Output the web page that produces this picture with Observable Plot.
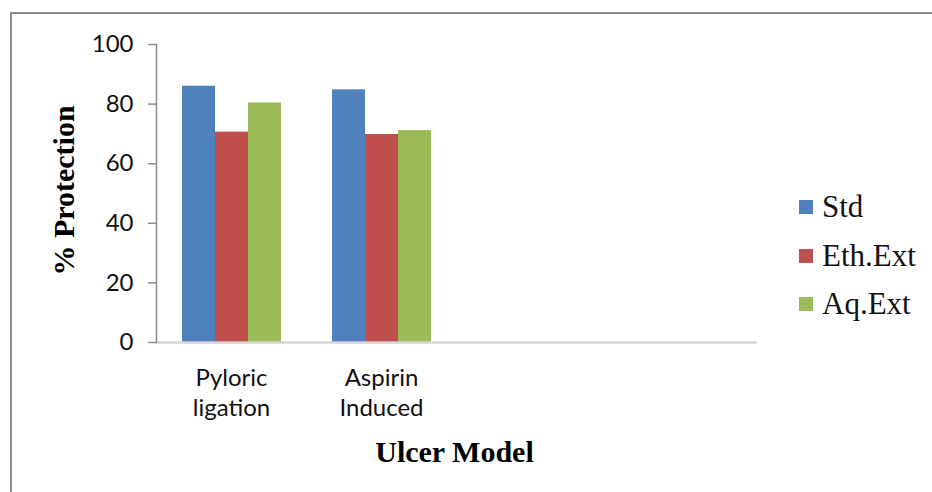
<!DOCTYPE html>
<html>
<head>
<meta charset="utf-8">
<script src="https://cdn.jsdelivr.net/npm/d3@7"></script>
<script src="https://cdn.jsdelivr.net/npm/@observablehq/plot@0.6"></script>
<style>
  html, body { margin: 0; padding: 0; background: #fff; width: 932px; height: 492px; overflow: hidden; }
  #wrap { position: relative; width: 932px; height: 492px; }
  #border { position: absolute; left: 10px; top: 12px; width: 1000px; height: 600px;
            border-left: 2px solid #8c8c8c; border-top: 2px solid #8c8c8c; box-sizing: border-box; }
  #chart { position: absolute; left: 0; top: 0; }
  #legend { position: absolute; left: 799px; top: 183px; font-family: "Liberation Serif", "Times New Roman", serif;
            font-size: 31px; color: #111; }
  .row { display: flex; align-items: center; height: 48.5px; }
  .sw { width: 14px; height: 14px; margin-right: 9px; }
</style>
</head>
<body>
<div id="wrap">
  <div id="border"></div>
  <div id="chart"></div>
  <div id="legend"></div>
</div>
<script>
const categories = ["Pyloric ligation", "Aspirin Induced"];
const categoryLabels = ["Pyloric\nligation", "Aspirin\nInduced"];
const emptySlots = ["slot 3", "slot 4"];
const series = ["Std", "Eth.Ext", "Aq.Ext"];
const stdValues = [86.0, 84.8];
const ethValues = [70.6, 69.8];
const aqValues = [80.4, 71.1];
const seriesColors = ["#4F81BD", "#C0504D", "#9BBB59"];
const yTicks = [0, 20, 40, 60, 80, 100];
const yLabel = "% Protection";
const xLabel = "Ulcer Model";

const valueArrays = [stdValues, ethValues, aqValues];
const data = categories.flatMap((c, i) =>
  series.map((s, j) => ({category: c, series: s, value: valueArrays[j][i]}))
);
const labelOf = new Map(categories.map((c, i) => [c, categoryLabels[i]]));

const chart = Plot.plot({
  width: 932,
  height: 492,
  marginLeft: 155,
  marginRight: 175,
  marginTop: 44,
  marginBottom: 150,
  style: {fontFamily: "Lato, sans-serif", background: "transparent", color: "#000"},
  fx: {domain: [...categories, ...emptySlots], paddingInner: 1/3, paddingOuter: 1/6, axis: null, label: null},
  x: {domain: series, padding: 0, axis: null},
  y: {domain: [0, 100], axis: null},
  color: {domain: series, range: seriesColors},
  marks: [
    Plot.barY(data, {fx: "category", x: "series", y: "value", fill: "series"}),
    Plot.frame({anchor: "bottom", stroke: "#d4d4d4", strokeWidth: 2.5, facet: "super", insetLeft: -25, insetRight: -24}),
    Plot.frame({anchor: "left", stroke: "#8c8c8c", strokeWidth: 1.5, facet: "super", insetLeft: -25}),
    Plot.axisY({ticks: yTicks, tickSize: 8, tickPadding: 15, dx: -25, fontSize: 24, stroke: "#8c8c8c", strokeWidth: 1.5, fill: "#111", label: null}),
    Plot.axisFx({anchor: "bottom", tickSize: 0, tickPadding: 22, fontSize: 24, lineHeight: 1.25, fill: "#111",
                 tickFormat: d => labelOf.get(d) ?? "", label: null}),
    Plot.text([yLabel], {facet: "super", frameAnchor: "left", textAnchor: "middle", rotate: -90, dx: -117, dy: -3,
                         fontFamily: "Liberation Serif, serif", fontWeight: "bold", fontSize: 30, fill: "#000"}),
    Plot.text([xLabel], {facet: "super", frameAnchor: "bottom", lineAnchor: "middle", dy: 110, dx: -2,
                         fontFamily: "Liberation Serif, serif", fontWeight: "bold", fontSize: 30, fill: "#000"})
  ]
});
document.getElementById("chart").appendChild(chart);

const legend = document.getElementById("legend");
series.forEach((s, j) => {
  const row = document.createElement("div");
  row.className = "row";
  const sw = document.createElement("div");
  sw.className = "sw";
  sw.style.background = seriesColors[j];
  const t = document.createElement("span");
  t.textContent = s;
  row.appendChild(sw);
  row.appendChild(t);
  legend.appendChild(row);
});
</script>
</body>
</html>
